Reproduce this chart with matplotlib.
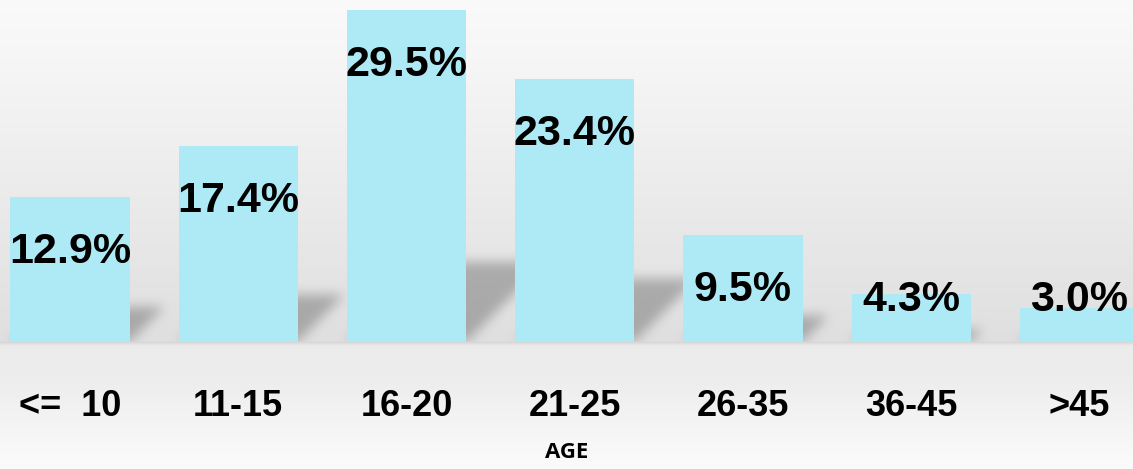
import matplotlib
matplotlib.use("Agg")
import matplotlib.pyplot as plt
import numpy as np

# age groups and share of respondents (%)
ages = ["<=  10", "11-15", "16-20", "21-25", "26-35", "36-45", ">45"]
share = [12.9, 17.4, 29.5, 23.4, 9.5, 4.3, 3.0]

W, H = 1133, 469
fig = plt.figure(figsize=(W / 100, H / 100), dpi=100)

ax = fig.add_axes([0, 127 / H, 1, 342 / H])
ax.set_xlim(-0.416, 6.318)
ax.set_ylim(0, 30.4)
ax.patch.set_alpha(0)
for s in ax.spines.values():
    s.set_visible(False)

x = np.arange(len(ages))
bw = 0.71
bars = ax.bar(x, share, width=bw, color="#aeeaf5", zorder=3)

# --- background: vertical gradient, floor, blurred perspective shadows
fig.canvas.draw()
yy = np.arange(H)[:, None] + 0.5          # rows from top
XX = np.arange(W)[None, :] + 0.5
base_px = 342
top = np.interp(yy, [0, 60, base_px], [0.98, 0.965, 0.875])
floor = np.interp(yy, [base_px, base_px + 4, 380, H], [0.83, 0.925, 0.93, 0.985])
bg = np.where(yy < base_px, top, floor) * np.ones((1, W))

shadow = np.zeros((H, W))
Yd = H - yy  # display y
for rect in bars:
    (x0, y0), (x1, y1) = ax.transData.transform([(rect.get_x(), 0),
                                                 (rect.get_x() + rect.get_width(), rect.get_height())])
    hs = 0.24 * (y1 - y0)
    d = Yd - y0
    m = (d >= 0) & (d <= hs) & (XX >= x0 + d) & (XX <= x1 + d)
    shadow = np.maximum(shadow, m.astype(float))

k = np.ones(11) / 11
for _ in range(3):
    shadow = np.apply_along_axis(lambda r: np.convolve(r, k, mode="same"), 1, shadow)
    shadow = np.apply_along_axis(lambda c: np.convolve(c, k, mode="same"), 0, shadow)
shadow[yy[:, 0] >= base_px, :] = 0
img = bg * (1 - 0.25 * shadow)

bgax = fig.add_axes([0, 0, 1, 1], zorder=-1)
bgax.imshow(np.dstack([img, img, img]), aspect="auto", extent=[0, 1, 0, 1],
            interpolation="bilinear")
bgax.axis("off")

# value labels inside the bars
for xi, v in zip(x, share):
    ax.text(xi, max(v - 4.9, 3.73), f"{v:.1f}%", ha="center", va="center",
            fontsize=31, fontweight="bold", family="Liberation Sans", zorder=4)

ax.set_xticks(x)
ax.set_xticklabels(ages, fontsize=26, fontweight="bold", family="Liberation Sans")
ax.tick_params(axis="x", length=0, pad=34)
ax.set_yticks([])
ax.set_xlabel("AGE", fontsize=16, fontweight="bold", family="Open Sans", labelpad=13)

fig.savefig("out.png", dpi=100)
